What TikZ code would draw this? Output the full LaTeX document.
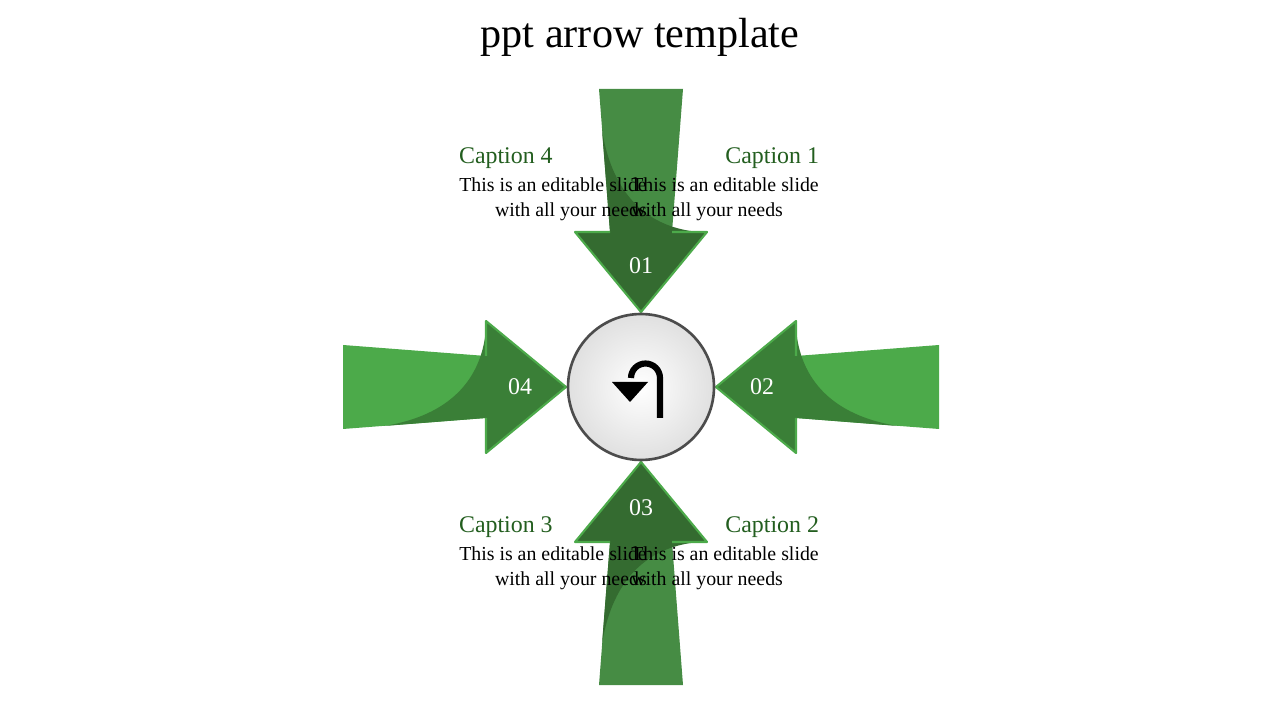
\documentclass[tikz,border=0pt]{standalone}
\usepackage{fontspec}
\setmainfont{Liberation Serif}
\usetikzlibrary{positioning,shadows}

\definecolor{shaftA}{HTML}{468C44}
\definecolor{headA}{HTML}{346B30}
\definecolor{shaftB}{HTML}{4CAA4A}
\definecolor{headB}{HTML}{3A7F37}
\definecolor{capgreen}{HTML}{235E1F}

\tikzset{
  caption/.style={font=\fontsize{13.6}{15}\selectfont, text=capgreen, inner sep=0pt},
  body/.style={font=\fontsize{11.3}{14.2}\selectfont, inner sep=0pt},
  num/.style={font=\fontsize{13.6}{15}\selectfont, text=white}
}

\begin{document}
\begin{tikzpicture}[x=0.02cm, y=0.02cm]
\useasboundingbox (0,0) rectangle (1280,720);

\node[font=\fontsize{24}{28}\selectfont] (title) at (640,683) {ppt arrow template};

\begin{scope}[shift={(641,333)}]
% the four arrows: matrix entries, shaft colour, head colour, number
\foreach \ma/\mb/\mc/\md/\cs/\ch/\n [count=\i] in {1/0/0/1/shaftA/headA/01, 0/1/1/0/shaftB/headB/02,
    1/0/0/-1/shaftA/headA/03, 0/1/-1/0/shaftB/headB/04}{
  \begin{scope}[cm={\ma,\mb,\mc,\md,(0,0)}]
    \fill[\cs] (-42,298) -- (42,298) -- (31,155) -- (66,155) -- (0,75)
      -- (-66,155) -- (-31,155) -- cycle;
    \fill[\ch] (-39,257) -- (-31,155) -- (-66,155) -- (0,75) -- (66,155) -- (58,155)
      .. controls (0,160) and (-30,200) .. cycle;
    \draw[shaftB, line width=1.2pt, line join=round] (31,155) -- (66,155) -- (0,75)
      -- (-66,155) -- (-31,155);
    \coordinate (n\i) at (0,121);
  \end{scope}
  \node[num] (num\i) at (n\i) {\n};
}
\end{scope}

% centre disc
\shade[inner color=white, outer color=black!12] (641,333) circle (72);
\node[circle, minimum size=2.92cm, draw=black!70, line width=1.5pt] (hub) at (641,333) {};
\draw[line width=3.5pt] (660,302) -- (660,342) arc (0:180:14.5);
\fill (612,338) -- (648,338) -- (630,318) -- cycle;

% captions
\node[caption, anchor=west] (cap1) at (725,562) {Caption 1};
\node[body, anchor=north west, align=left, below=9 of cap1.south west] (txt1) {This is an editable slide\\with all your needs};
\node[caption, anchor=west] (cap2) at (725,193) {Caption 2};
\node[body, anchor=north west, align=left, below=9 of cap2.south west] (txt2) {This is an editable slide\\with all your needs};
\node[caption, anchor=east] (cap3) at (553,193) {Caption 3};
\node[body, anchor=north east, align=right, below=9 of cap3.south east] (txt3) {This is an editable slide\\with all your needs};
\node[caption, anchor=east] (cap4) at (553,562) {Caption 4};
\node[body, anchor=north east, align=right, below=9 of cap4.south east] (txt4) {This is an editable slide\\with all your needs};
\end{tikzpicture}
\end{document}
